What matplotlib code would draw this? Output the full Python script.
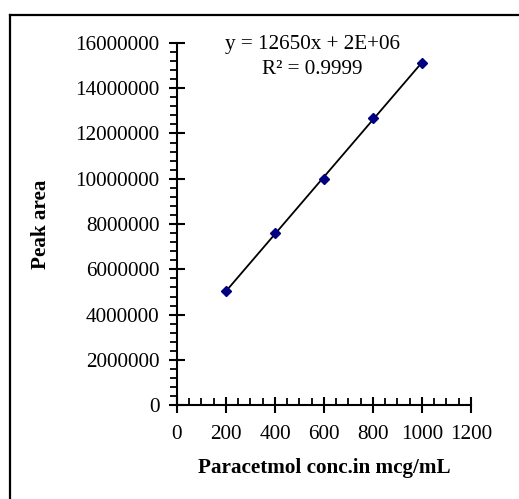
import matplotlib
matplotlib.use('Agg')
import matplotlib.pyplot as plt
import numpy as np
from matplotlib.lines import Line2D
from matplotlib.ticker import MultipleLocator, FuncFormatter

# calibration data
conc = [200, 400, 600, 800, 1000]
area = [5030000, 7600000, 10000000, 12680000, 15120000]
eq_text = 'y = 12650x + 2E+06'
r2_text = 'R² = 0.9999'

plt.rcParams['font.family'] = ['Liberation Serif', 'DejaVu Serif']

fig = plt.figure(figsize=(5.19, 4.99), dpi=100)
ax = fig.add_axes([0.341, 0.188, 0.5665, 0.726])

# outer frame: only left and top edges are visible
fx, fy = 9.5 / 519, 1 - 15 / 499
fig.lines.append(Line2D([fx, fx], [0, fy], transform=fig.transFigure,
                        color='black', linewidth=1.6))
fig.lines.append(Line2D([fx, 1], [fy, fy], transform=fig.transFigure,
                        color='black', linewidth=1.6))

# trendline
p = np.polyfit(conc, area, 1)
xs = np.array([conc[0], conc[-1]])
ax.plot(xs, np.polyval(p, xs), color='black', linewidth=1.3, zorder=2)
ax.plot(conc, area, linestyle='none', marker='D', markersize=5.5,
        color='#000080', zorder=3)

ax.set_xlim(0, 1200)
ax.set_ylim(0, 16000000)
ax.xaxis.set_major_locator(MultipleLocator(200))
ax.xaxis.set_minor_locator(MultipleLocator(50))
ax.yaxis.set_major_locator(MultipleLocator(2000000))
ax.yaxis.set_minor_locator(MultipleLocator(400000))
ax.yaxis.set_major_formatter(FuncFormatter(lambda v, pos: '%d' % v))

for s in ['top', 'right']:
    ax.spines[s].set_visible(False)
for s in ['left', 'bottom']:
    ax.spines[s].set_linewidth(1.5)

ax.tick_params(axis='both', which='major', direction='inout', length=11,
               width=1.5, labelsize=15.2)
ax.tick_params(axis='y', which='major', pad=7)
ax.tick_params(axis='x', which='major', pad=9)
ax.tick_params(axis='x', which='minor', direction='in', length=5, width=1.3)
ax.tick_params(axis='y', which='minor', direction='out', length=5, width=1.3)

ax.set_xlabel('Paracetmol conc.in mcg/mL', fontsize=15.2, fontweight='bold',
              labelpad=10)
ax.set_ylabel('Peak area', fontsize=15.2, fontweight='bold', labelpad=17.5)

fig.text(0.603, 0.910, eq_text, ha='center', va='center', fontsize=15.2)
fig.text(0.601, 0.860, r2_text, ha='center', va='center', fontsize=15.2)

fig.savefig('out.png', dpi=100)
